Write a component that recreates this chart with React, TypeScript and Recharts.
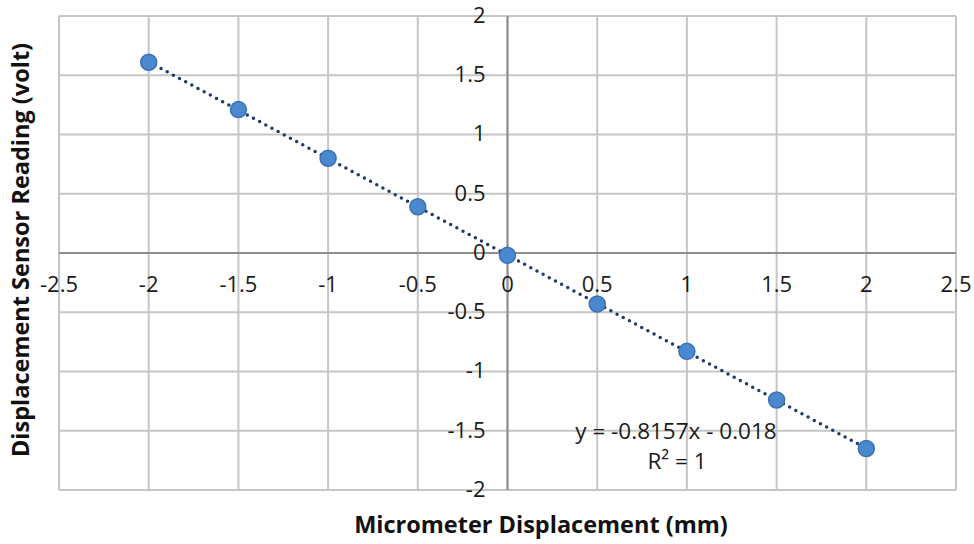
import React from 'react';
import { ScatterChart, Scatter, XAxis, YAxis, CartesianGrid, ReferenceLine } from 'recharts';

// micrometer setting (mm) vs. sensor output (V)
const displacementMm = [-2, -1.5, -1, -0.5, 0, 0.5, 1, 1.5, 2];
const sensorVolt = [1.61, 1.21, 0.8, 0.39, -0.02, -0.43, -0.83, -1.24, -1.65];

// linear trendline end points, y = -0.8157x - 0.018
const trendX = [-2, 2];
const trendY = [1.613, -1.649];

const xTicks = [-2.5, -2, -1.5, -1, -0.5, 0, 0.5, 1, 1.5, 2, 2.5];
const yTicks = [-2, -1.5, -1, -0.5, 0, 0.5, 1, 1.5, 2];

const points = displacementMm.map((x, i) => ({ x, y: sensorVolt[i] }));
const trend = trendX.map((x, i) => ({ x, y: trendY[i] }));

const W = 974;
const H = 544;
const M = { top: 16, left: 58, right: 18, bottom: 53 };
// axes cross at the origin, in the middle of the symmetric domains
const ZERO_X = M.left + 1 + (W - M.left - 1 - M.right) / 2;
const ZERO_Y = M.top + (H - M.top - M.bottom - 1) / 2;

const FONT = '"Open Sans", Lato, sans-serif';

const renderXTick = (props: any) => (
  <text key={`x${props.payload.value}`} x={props.x} y={ZERO_Y + 33} textAnchor="middle" dominantBaseline="middle"
    fontFamily={FONT} fontSize={22} fill="#1a1a1a">
    {String(props.payload.value)}
  </text>
);

const renderYTick = (props: any) => (
  <text key={`y${props.payload.value}`} x={ZERO_X - 22} y={props.y + 1} textAnchor="end" dominantBaseline="middle"
    fontFamily={FONT} fontSize={22} fill="#1a1a1a">
    {String(props.payload.value)}
  </text>
);

const Dot = ({ cx, cy }: any) => (
  <circle cx={cx} cy={cy} r={8} fill="#4a89cf" stroke="#3b72b3" strokeWidth={1.5} />
);

const App = () => {
  return (
    <div style={{ position: 'absolute', left: 0, top: 0, width: W, height: H, background: '#fff' }}>
      <ScatterChart width={W} height={H} margin={M}>
        <CartesianGrid stroke="#c6c6c6" strokeWidth={2} />
        <XAxis type="number" dataKey="x" domain={[-2.5, 2.5]} ticks={xTicks} height={1}
          axisLine={false} tickLine={false} tick={renderXTick} interval={0} />
        <YAxis type="number" dataKey="y" domain={[-2, 2]} ticks={yTicks} width={1}
          axisLine={false} tickLine={false} tick={renderYTick} interval={0} />
        <ReferenceLine x={0} stroke="#8e8e8e" strokeWidth={2} />
        <ReferenceLine y={0} stroke="#8e8e8e" strokeWidth={2} />
        <Scatter data={trend} isAnimationActive={false} shape={() => null}
          line={{ stroke: '#1f3a6b', strokeWidth: 3.5, strokeDasharray: '0 7', strokeLinecap: 'round' }} />
        <Scatter data={points} isAnimationActive={false} shape={<Dot />} />
      </ScatterChart>
      <svg width={W} height={H} style={{ position: 'absolute', left: 0, top: 0, pointerEvents: 'none' }}>
        <text x={676} y={433} textAnchor="middle" dominantBaseline="middle"
          fontFamily={FONT} fontSize={22.5} fill="#1a1a1a">y = -0.8157x - 0.018</text>
        <text x={677} y={463} textAnchor="middle" dominantBaseline="middle"
          fontFamily={FONT} fontSize={22.5} fill="#1a1a1a">R² = 1</text>
        <text x={541} y={527} textAnchor="middle" dominantBaseline="middle"
          fontFamily={FONT} fontSize={23.5} fontWeight="bold" fill="#111">Micrometer Displacement (mm)</text>
        <text x={23} y={250} textAnchor="middle" dominantBaseline="middle" transform="rotate(-90 23 250)"
          fontFamily={FONT} fontSize={23.5} fontWeight="bold" fill="#111">Displacement Sensor Reading (volt)</text>
      </svg>
    </div>
  );
};

export default App;
